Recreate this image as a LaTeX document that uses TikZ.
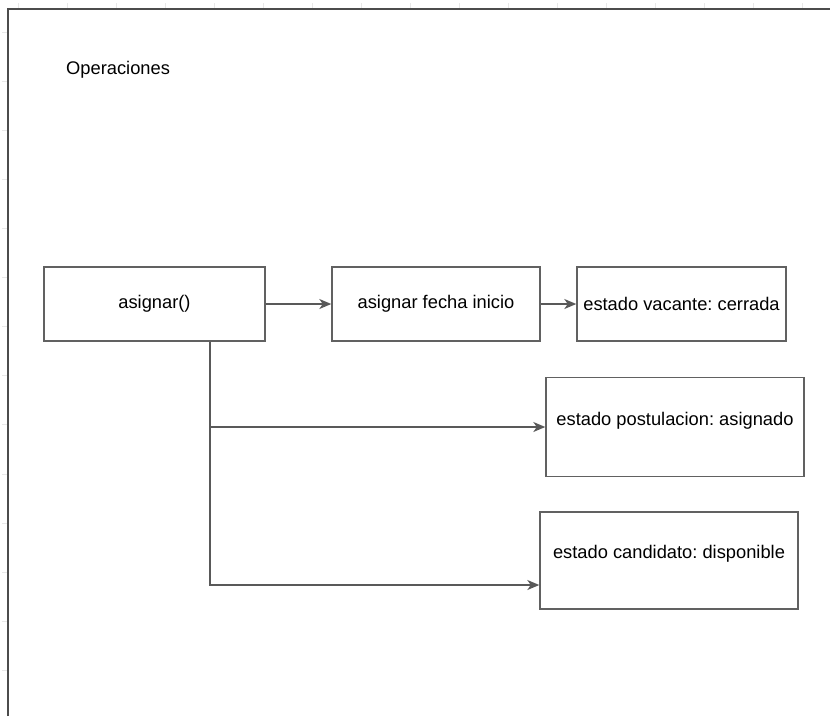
\documentclass[tikz,border=0pt]{standalone}
\usepackage{fontspec}
\setmainfont{Liberation Sans}
\frenchspacing
\usetikzlibrary{arrows.meta}
\tikzset{
  box/.style={draw=black!62, line width=1.4pt, fill=white, inner sep=0pt, align=center,
    font=\fontsize{18.3}{22}\selectfont},
  conn/.style={draw=black!65, line width=1.5pt, -{Stealth[length=12pt,width=10pt,inset=3.5pt]}},
  frameline/.style={draw=black!70, line width=1.6pt},
  tick/.style={draw=black!9, line width=0.8pt},
  lbl/.style={inner sep=0pt, font=\fontsize{18.3}{22}\selectfont}
}
\begin{document}
\begin{tikzpicture}[x=1pt,y=-1pt]
\useasboundingbox (0,0) rectangle (830,716);
% ruler ticks
\foreach \k in {0,...,16} \draw[tick] ({18+49*\k},3) -- ({18+49*\k},9);
\foreach \k in {0,...,14} \draw[tick] (2,{32+49.1*\k}) -- (8,{32+49.1*\k});
% frame
\draw[frameline] (8,716) -- (8,9) -- (830,9);
% title
\node[lbl, anchor=west] (title) at (66,70) {Operaciones};
% boxes
\node[box, minimum width=221pt, minimum height=74pt] (asig) at (154.5,304) {asignar()};
\node[box, minimum width=208pt, minimum height=74pt] (fecha) at (436,304) {asignar fecha inicio};
\node[box, minimum width=209pt, minimum height=74pt] (vac) at (681.5,304) {estado vacante: cerrada};
\node[box, minimum width=258pt, minimum height=99pt] (post) at (675,427) {\raisebox{6pt}[\height][\depth]{estado postulacion: asignado}};
\node[box, minimum width=258pt, minimum height=97pt] (cand) at (669,560.5) {\raisebox{7pt}[\height][\depth]{estado candidato: disponible}};
% connectors
\draw[conn] (asig.east) -- (fecha.west);
\draw[conn] (fecha.east) -- (vac.west);
\coordinate (j1) at (210,427);
\coordinate (j2) at (210,585);
\draw[conn] (asig.south -| j1) -- (j1) -- (post.west);
\draw[conn] (asig.south -| j2) -- (j2) -- (cand.west |- j2);
\end{tikzpicture}
\end{document}
